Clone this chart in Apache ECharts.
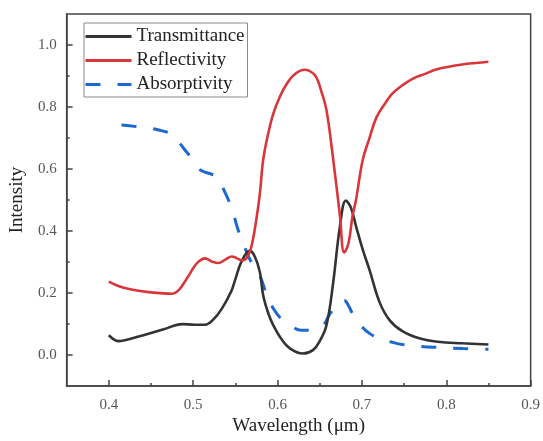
<!DOCTYPE html>
<html>
<head>
<meta charset="utf-8">
<script src="https://cdn.jsdelivr.net/npm/echarts@6/dist/echarts.min.js"></script>
<style>
html,body{margin:0;padding:0;background:#fff;}
#chart{width:543px;height:441px;}
</style>
</head>
<body>
<div id="chart"></div>
<script>
// ---- data ----
const transW = [0.400,0.412,0.425,0.443,0.465,0.487,0.502,0.514,0.524,0.534,0.545,0.550,0.557,0.567,0.573,0.579,0.583,0.589,0.595,0.605,0.615,0.630,0.642,0.650,0.658,0.666,0.674,0.681,0.687,0.693,0.701,0.709,0.721,0.733,0.748,0.768,0.790,0.820,0.850];
const transV = [0.064,0.045,0.052,0.066,0.083,0.100,0.098,0.098,0.115,0.150,0.205,0.245,0.300,0.336,0.318,0.268,0.192,0.135,0.096,0.050,0.021,0.005,0.016,0.045,0.096,0.235,0.416,0.498,0.475,0.416,0.340,0.275,0.170,0.112,0.077,0.054,0.043,0.038,0.034];

const reflW = [0.400,0.412,0.424,0.447,0.465,0.475,0.481,0.487,0.495,0.502,0.508,0.514,0.522,0.530,0.538,0.546,0.552,0.558,0.563,0.568,0.572,0.575,0.579,0.583,0.589,0.595,0.603,0.611,0.620,0.632,0.640,0.646,0.652,0.658,0.666,0.674,0.679,0.684,0.689,0.693,0.701,0.709,0.717,0.727,0.736,0.748,0.760,0.775,0.788,0.803,0.819,0.835,0.850];
const reflV = [0.237,0.222,0.213,0.203,0.199,0.198,0.205,0.224,0.258,0.288,0.305,0.312,0.302,0.297,0.308,0.318,0.312,0.305,0.312,0.340,0.390,0.440,0.520,0.630,0.715,0.779,0.835,0.875,0.905,0.920,0.913,0.896,0.850,0.790,0.630,0.448,0.331,0.360,0.450,0.500,0.630,0.700,0.765,0.810,0.843,0.870,0.891,0.907,0.921,0.930,0.937,0.942,0.946];

const absW = [0.415,0.435,0.459,0.475,0.490,0.498,0.505,0.512,0.520,0.528,0.538,0.546,0.553,0.559,0.567,0.579,0.587,0.595,0.605,0.615,0.628,0.640,0.654,0.662,0.672,0.679,0.684,0.689,0.699,0.709,0.721,0.735,0.748,0.770,0.788,0.820,0.850];
const absV = [0.742,0.736,0.726,0.710,0.662,0.635,0.605,0.592,0.585,0.574,0.523,0.470,0.406,0.363,0.310,0.256,0.195,0.150,0.115,0.096,0.080,0.080,0.096,0.133,0.165,0.176,0.160,0.133,0.095,0.070,0.053,0.042,0.034,0.028,0.025,0.021,0.019];

const seriesNames = ['Transmittance','Reflectivity','Absorptivity'];
const xMajorTicks = [0.4,0.5,0.6,0.7,0.8,0.9];
const xMinorTicks = [0.45,0.55,0.65,0.75,0.85];
const yMajorTicks = [0.0,0.2,0.4,0.6,0.8,1.0];
const yMinorTicks = [0.1,0.3,0.5,0.7,0.9];

const pairs = (xs, ys) => xs.map((x, i) => [x, ys[i]]);

const FONT = "'Liberation Serif','Times New Roman',serif";
const AXIS_COLOR = '#444';

const chart = echarts.init(document.getElementById('chart'), null, {renderer: 'canvas'});

const baseX = {
  type: 'value', min: 0.35, max: 0.9, interval: 0.05,
  gridIndex: 0, position: 'bottom',
  splitLine: {show: false}
};
const baseY = {
  type: 'value', min: -0.1, max: 1.1, interval: 0.1,
  gridIndex: 0, position: 'left',
  splitLine: {show: false}
};

chart.setOption({
  animation: false,
  backgroundColor: '#fff',
  grid: {left: 66, right: 11, top: 14, bottom: 53, show: true, borderColor: AXIS_COLOR, borderWidth: 1.5, backgroundColor: 'transparent'},
  legend: {
    orient: 'vertical', left: 84, top: 23,
    itemWidth: 46, itemHeight: 14, itemGap: 5,
    padding: [4, 3, 3, 0],
    itemStyle: {opacity: 0},
    lineStyle: {width: 3},
    borderColor: '#8a8a8a', borderWidth: 1,
    data: seriesNames,
    textStyle: {fontFamily: FONT, fontSize: 19, color: '#222'}
  },
  xAxis: [
    Object.assign({}, baseX, {
      name: 'Wavelength (μm)', nameLocation: 'middle', nameGap: 30,
      nameTextStyle: {fontFamily: FONT, fontSize: 19, color: '#222'},
      axisLine: {show: true, onZero: false, lineStyle: {color: AXIS_COLOR, width: 1.5}},
      axisTick: {show: true, inside: true, length: 6, customValues: xMajorTicks, lineStyle: {color: AXIS_COLOR, width: 1.5}},
      axisLabel: {show: true, customValues: xMajorTicks, margin: 11, fontFamily: FONT, fontSize: 15, color: '#555', formatter: v => v.toFixed(1)}
    }),
    Object.assign({}, baseX, {
      axisLine: {show: false, onZero: false},
      axisTick: {show: true, inside: true, length: 3, customValues: xMinorTicks, lineStyle: {color: AXIS_COLOR, width: 1.5}},
      axisLabel: {show: false}
    })
  ],
  yAxis: [
    Object.assign({}, baseY, {
      name: 'Intensity', nameLocation: 'middle', nameGap: 38,
      nameTextStyle: {fontFamily: FONT, fontSize: 19, color: '#222'},
      axisLine: {show: true, onZero: false, lineStyle: {color: AXIS_COLOR, width: 1.5}},
      axisTick: {show: true, inside: true, length: 6, customValues: yMajorTicks, lineStyle: {color: AXIS_COLOR, width: 1.5}},
      axisLabel: {show: true, customValues: yMajorTicks, margin: 10, fontFamily: FONT, fontSize: 15, color: '#555', formatter: v => v.toFixed(1)}
    }),
    Object.assign({}, baseY, {
      axisLine: {show: false, onZero: false},
      axisTick: {show: true, inside: true, length: 3, customValues: yMinorTicks, lineStyle: {color: AXIS_COLOR, width: 1.5}},
      axisLabel: {show: false}
    })
  ],
  series: [
    {
      name: seriesNames[0], type: 'line', xAxisIndex: 0, yAxisIndex: 0,
      data: pairs(transW, transV), symbol: 'none', smooth: 0.4,
      lineStyle: {color: '#333333', width: 2.6}, itemStyle: {color: '#333333'}, z: 3
    },
    {
      name: seriesNames[1], type: 'line', xAxisIndex: 0, yAxisIndex: 0,
      data: pairs(reflW, reflV), symbol: 'none', smooth: 0.4,
      lineStyle: {color: '#d8363a', width: 2.6}, itemStyle: {color: '#d8363a'}, z: 4
    },
    {
      name: seriesNames[2], type: 'line', xAxisIndex: 0, yAxisIndex: 0,
      data: pairs(absW, absV), symbol: 'none', smooth: 0.4,
      lineStyle: {color: '#1c68cf', width: 3, type: [15, 17]}, itemStyle: {color: '#1c68cf'}, z: 2
    }
  ]
});
</script>
</body>
</html>
